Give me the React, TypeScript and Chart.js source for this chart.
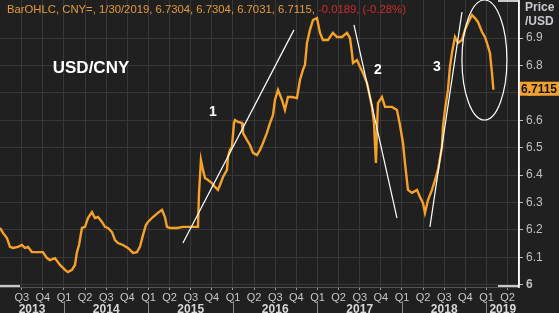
import React, { useEffect, useRef } from 'react';
import { Chart, registerables } from 'chart.js';

Chart.register(...registerables);

// Decimal-year dates of the sampled closes (USD/CNY)
const dates = [
  2013.243, 2013.278, 2013.325, 2013.361, 2013.396, 2013.456, 2013.503, 2013.538, 2013.574, 2013.621,
  2013.680, 2013.751, 2013.799, 2013.834, 2013.893, 2013.953, 2014.012, 2014.047, 2014.095, 2014.130,
  2014.154, 2014.178, 2014.213, 2014.249, 2014.284, 2014.331, 2014.367, 2014.402, 2014.450, 2014.485,
  2014.521, 2014.568, 2014.604, 2014.639, 2014.698, 2014.757, 2014.817, 2014.864, 2014.899, 2014.935,
  2014.970, 2014.994, 2015.053, 2015.112, 2015.160, 2015.195, 2015.219, 2015.254, 2015.337, 2015.408,
  2015.491, 2015.586, 2015.598, 2015.621, 2015.645, 2015.669, 2015.704, 2015.751, 2015.787, 2015.822,
  2015.846, 2015.882, 2015.929, 2015.941, 2015.964, 2015.988, 2016.012, 2016.024, 2016.059, 2016.107,
  2016.118, 2016.166, 2016.201, 2016.237, 2016.284, 2016.320, 2016.355, 2016.402, 2016.438, 2016.473,
  2016.497, 2016.533, 2016.580, 2016.615, 2016.651, 2016.698, 2016.757, 2016.793, 2016.828, 2016.852,
  2016.876, 2016.911, 2016.947, 2016.994, 2017.030, 2017.065, 2017.124, 2017.183, 2017.231, 2017.290,
  2017.349, 2017.385, 2017.408, 2017.420, 2017.467, 2017.503, 2017.538, 2017.586, 2017.621, 2017.645,
  2017.669, 2017.680, 2017.692, 2017.704, 2017.716, 2017.763, 2017.799, 2017.834, 2017.882, 2017.941,
  2017.976, 2018.012, 2018.036, 2018.071, 2018.118, 2018.178, 2018.213, 2018.249, 2018.272, 2018.308,
  2018.355, 2018.391, 2018.426, 2018.473, 2018.485, 2018.509, 2018.544, 2018.568, 2018.592, 2018.627,
  2018.663, 2018.710, 2018.746, 2018.781, 2018.828, 2018.864, 2018.899, 2018.947, 2018.982, 2019.006,
  2019.041, 2019.065, 2019.082,
];

const closes = [
  6.207, 6.189, 6.170, 6.138, 6.134, 6.138, 6.145, 6.134, 6.138, 6.119,
  6.119, 6.119, 6.097, 6.090, 6.097, 6.072, 6.054, 6.046, 6.054, 6.072,
  6.119, 6.145, 6.207, 6.211, 6.243, 6.265, 6.243, 6.247, 6.229, 6.211,
  6.207, 6.192, 6.163, 6.152, 6.145, 6.134, 6.116, 6.119, 6.138, 6.181,
  6.218, 6.229, 6.247, 6.262, 6.273, 6.247, 6.211, 6.207, 6.207, 6.211,
  6.211, 6.211, 6.335, 6.455, 6.419, 6.389, 6.382, 6.371, 6.357, 6.346,
  6.364, 6.393, 6.419, 6.466, 6.492, 6.503, 6.590, 6.601, 6.594, 6.590,
  6.554, 6.528, 6.510, 6.481, 6.473, 6.492, 6.517, 6.554, 6.590, 6.619,
  6.674, 6.711, 6.674, 6.638, 6.685, 6.685, 6.681, 6.747, 6.784, 6.802,
  6.882, 6.930, 6.966, 6.973, 6.919, 6.893, 6.893, 6.919, 6.904, 6.904,
  6.919, 6.900, 6.846, 6.809, 6.820, 6.795, 6.773, 6.736, 6.685, 6.649,
  6.590, 6.517, 6.444, 6.565, 6.663, 6.685, 6.649, 6.649, 6.649, 6.638,
  6.583, 6.517, 6.444, 6.346, 6.335, 6.346, 6.320, 6.298, 6.262, 6.309,
  6.346, 6.382, 6.419, 6.503, 6.576, 6.638, 6.711, 6.795, 6.846, 6.904,
  6.882, 6.893, 6.930, 6.955, 6.984, 6.973, 6.959, 6.922, 6.904, 6.882,
  6.846, 6.773, 6.7115,
];

const priceTicks = [6.0, 6.1, 6.2, 6.3, 6.4, 6.5, 6.6, 6.7, 6.8, 6.9];
const quarterTicks = [
  2013.5, 2013.75, 2014.0, 2014.25, 2014.5, 2014.75, 2015.0, 2015.25, 2015.5, 2015.75,
  2016.0, 2016.25, 2016.5, 2016.75, 2017.0, 2017.25, 2017.5, 2017.75, 2018.0, 2018.25,
  2018.5, 2018.75, 2019.0, 2019.25,
];
const yearLabels = [2013, 2014, 2015, 2016, 2017, 2018, 2019];
const xRange = [2013.243, 2019.385];
const yRange = [5.9916, 7.039];

const lastClose = 6.7115;
const headerInfo = 'BarOHLC, CNY=, 1/30/2019, 6.7304, 6.7304, 6.7031, 6.7115, ';
const headerChange = '-0.0189, (-0.28%)';
const axisTitle = ['Price', '/USD'];
const pairLabel = { text: 'USD/CNY', x: 2014.32, y: 6.791 };

const trendLines = [
  { x1: 2015.408, y1: 6.152, x2: 2016.722, y2: 6.930 },
  { x1: 2017.432, y1: 6.948, x2: 2017.941, y2: 6.243 },
  { x1: 2018.331, y1: 6.211, x2: 2018.710, y2: 6.995 },
];
const waveLabels = [
  { text: '1', x: 2015.763, y: 6.630 },
  { text: '2', x: 2017.716, y: 6.784 },
  { text: '3', x: 2018.414, y: 6.795 },
];
const focusEllipse = { x: 2018.976, y: 6.82, rx: 0.266, ry: 0.219 };

const BG = '#202020';
const GRID = '#383838';
const ORANGE = '#f5a12a';
const FONT = "'Liberation Sans', Arial, sans-serif";

export default function App() {
  const ref = useRef<HTMLCanvasElement | null>(null);

  useEffect(() => {
    document.body.style.margin = '0';
    document.body.style.background = BG;
    const canvas = ref.current!;

    const drawPlugin = {
      id: 'decor',
      beforeDraw(chart: any) {
        const c = chart.ctx;
        c.save();
        c.fillStyle = BG;
        c.fillRect(0, 0, chart.width, chart.height);
        c.restore();
      },
      afterDatasetsDraw(chart: any) {
        const c = chart.ctx;
        const xs = chart.scales.x;
        const ys = chart.scales.y;
        const ca = chart.chartArea;
        c.save();
        c.beginPath();
        c.rect(ca.left, 0, ca.right - ca.left, ca.bottom);
        c.clip();
        c.strokeStyle = '#ffffff';
        c.lineWidth = 1.2;
        trendLines.forEach((l) => {
          c.beginPath();
          c.moveTo(xs.getPixelForValue(l.x1), ys.getPixelForValue(l.y1));
          c.lineTo(xs.getPixelForValue(l.x2), ys.getPixelForValue(l.y2));
          c.stroke();
        });
        const cx = xs.getPixelForValue(focusEllipse.x);
        const cy = ys.getPixelForValue(focusEllipse.y);
        const rx = Math.abs(xs.getPixelForValue(focusEllipse.x + focusEllipse.rx) - cx);
        const ry = Math.abs(ys.getPixelForValue(focusEllipse.y + focusEllipse.ry) - cy);
        c.beginPath();
        c.ellipse(cx, cy, rx, ry, 0, 0, Math.PI * 2);
        c.stroke();

        c.fillStyle = '#ffffff';
        c.textAlign = 'center';
        c.textBaseline = 'middle';
        c.font = `bold 14px ${FONT}`;
        waveLabels.forEach((w) => {
          c.fillText(w.text, xs.getPixelForValue(w.x), ys.getPixelForValue(w.y));
        });
        c.font = `bold 17px ${FONT}`;
        c.fillText(pairLabel.text, xs.getPixelForValue(pairLabel.x), ys.getPixelForValue(pairLabel.y));
        c.restore();
      },
      afterDraw(chart: any) {
        const c = chart.ctx;
        const xs = chart.scales.x;
        const ys = chart.scales.y;
        const ca = chart.chartArea;
        c.save();
        // header
        c.font = `11.3px ${FONT}`;
        c.textBaseline = 'middle';
        c.textAlign = 'left';
        c.fillStyle = '#e39b3f';
        c.fillText(headerInfo, 7, 10);
        const w = c.measureText(headerInfo).width;
        c.fillStyle = '#d02a2a';
        c.fillText(headerChange, 7 + w, 10);

        // axis title
        c.font = `bold 12px ${FONT}`;
        c.fillStyle = '#c9c9d2';
        c.fillText(axisTitle[0], ca.right + 6, 8);
        c.fillText(axisTitle[1], ca.right + 6, 22);

        // last value badge
        const by = ys.getPixelForValue(lastClose) - 1;
        c.fillStyle = '#f2a12e';
        c.fillRect(ca.right + 1, by - 7, chart.width - ca.right - 1, 14);
        c.fillStyle = '#111111';
        c.font = `bold 12px ${FONT}`;
        c.fillText(lastClose.toFixed(4), ca.right + 2, by + 0.5);

        // year row
        c.font = `bold 12px ${FONT}`;
        c.textAlign = 'center';
        c.fillStyle = '#d8d8d8';
        yearLabels.forEach((yr) => {
          const a = Math.max(yr, xRange[0]);
          const b = Math.min(yr + 1, xRange[1]);
          if (b <= a) return;
          const pa = xs.getPixelForValue(a);
          const pb = xs.getPixelForValue(b);
          c.fillText(String(yr), (pa + pb) / 2, 310);
          if (yr > xRange[0]) {
            c.strokeStyle = '#8a8a8a';
            c.lineWidth = 1;
            c.beginPath();
            c.moveTo(Math.round(pa) + 0.5, 301);
            c.lineTo(Math.round(pa) + 0.5, 313);
            c.stroke();
          }
        });

        // frame segments
        c.strokeStyle = '#ffffff';
        c.lineWidth = 1.5;
        c.beginPath();
        c.moveTo(ca.left, ca.bottom - 1);
        c.lineTo(ca.left + 20, ca.bottom - 1);
        c.moveTo(ca.right - 21, ca.bottom - 1);
        c.lineTo(ca.right, ca.bottom - 1);
        c.lineTo(ca.right, 1);
        c.lineTo(ca.right - 21, 1);
        c.stroke();
        c.restore();
      },
    };

    const chart = new Chart(canvas, {
      type: 'line',
      data: {
        datasets: [
          {
            data: dates.map((d, i) => ({ x: d, y: closes[i] })),
            borderColor: ORANGE,
            borderWidth: 2.4,
            pointRadius: 0,
            tension: 0,
            fill: false,
          },
        ],
      },
      options: {
        responsive: false,
        animation: false,
        devicePixelRatio: 1,
        layout: { padding: 0 },
        plugins: { legend: { display: false }, tooltip: { enabled: false }, title: { display: false } },
        scales: {
          x: {
            type: 'linear',
            min: xRange[0],
            max: xRange[1],
            afterBuildTicks: (s: any) => {
              s.ticks = quarterTicks.map((v) => ({ value: v }));
            },
            afterFit: (s: any) => {
              s.height = 26;
              s.paddingLeft = 0;
              s.paddingRight = 0;
            },
            grid: { color: GRID, tickColor: '#9a9a9a', tickLength: 3, drawTicks: true },
            border: { color: '#555555', width: 1 },
            ticks: {
              autoSkip: false,
              maxRotation: 0,
              padding: 1,
              color: '#c8c8c8',
              font: { family: FONT, size: 11 },
              callback: (v: any) => 'Q' + (Math.round((Number(v) - Math.floor(Number(v) + 1e-6)) * 4) + 1),
            },
          },
          y: {
            type: 'linear',
            position: 'right',
            min: yRange[0],
            max: yRange[1],
            afterBuildTicks: (s: any) => {
              s.ticks = priceTicks.map((v) => ({ value: v }));
            },
            afterFit: (s: any) => {
              s.width = 40;
              s.paddingTop = 0;
              s.paddingBottom = 0;
            },
            grid: { color: GRID, tickColor: '#bdbdbd', tickLength: 4, drawTicks: true },
            border: { color: '#ffffff', width: 1.5 },
            ticks: {
              autoSkip: false,
              padding: 3,
              color: '#c0c0c0',
              font: (ctx: any) => ({
                family: FONT,
                size: 12,
                weight: ctx.tick && ctx.tick.value === 6 ? 'bold' : 'normal',
              }),
              callback: (v: any) => {
                const n = Number(v);
                return n === 6 ? '6' : n.toFixed(1);
              },
            },
          },
        },
      },
      plugins: [drawPlugin],
    });
    return () => chart.destroy();
  }, []);

  return (
    <div style={{ width: 559, height: 313, background: BG }}>
      <canvas ref={ref} width={559} height={313} style={{ display: 'block', width: 559, height: 313 }} />
    </div>
  );
}
